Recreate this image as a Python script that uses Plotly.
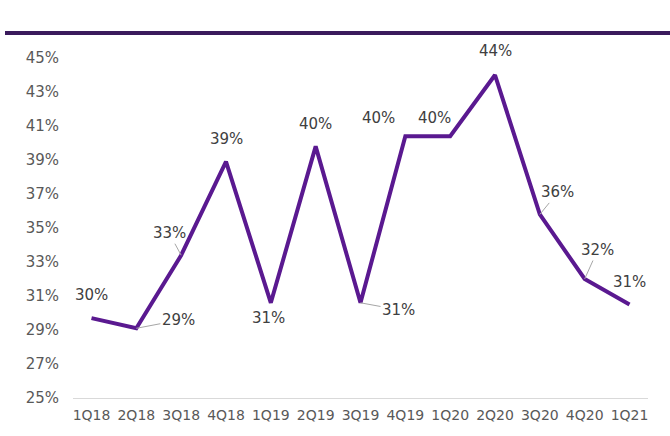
import plotly.graph_objects as go

quarters = ["1Q18", "2Q18", "3Q18", "4Q18", "1Q19", "2Q19", "3Q19", "4Q19",
            "1Q20", "2Q20", "3Q20", "4Q20", "1Q21"]
values = [29.7, 29.1, 33.4, 38.9, 30.6, 39.8, 30.6, 40.4, 40.4, 44.0, 35.8, 32.0, 30.5]
labels = ["30%", "29%", "33%", "39%", "31%", "40%", "31%", "40%", "40%", "44%", "36%", "32%", "31%"]
y_ticks = [25, 27, 29, 31, 33, 35, 37, 39, 41, 43, 45]

# label offsets in pixels (dx, dy) and whether a leader line is drawn
label_offsets = [(0, -23, False), (42, -8, True), (-12, -22, True), (0, -23, False),
                 (-2, 15, False), (0, -22, False), (38, 7, True), (-27, -18, False),
                 (-16, -18, False), (0, -24, False), (18, -22, True), (13, -29, True),
                 (0, -23, False)]

FONT = "DejaVu Sans"

fig = go.Figure()
fig.add_trace(go.Scatter(
    x=quarters, y=values, mode="lines",
    line=dict(color="#5a1990", width=4),
    hoverinfo="skip", showlegend=False,
))

annotations = []
for q, v, lab, (dx, dy, leader) in zip(quarters, values, labels, label_offsets):
    if leader:
        annotations.append(dict(
            x=q, y=v, xref="x", yref="y", text=lab, showarrow=True,
            ax=dx, ay=dy, axref="pixel", ayref="pixel",
            arrowhead=0, arrowwidth=1, arrowcolor="#a6a6a6", standoff=0,
            font=dict(family=FONT, size=15, color="#404040"),
        ))
    else:
        annotations.append(dict(
            x=q, y=v, xref="x", yref="y", text=lab, showarrow=False,
            xshift=dx, yshift=-dy,
            font=dict(family=FONT, size=15, color="#404040"),
        ))

fig.update_layout(
    width=670, height=436,
    margin=dict(l=73, r=22, t=58, b=38),
    paper_bgcolor="white", plot_bgcolor="white",
    font=dict(family=FONT, size=14, color="#595959"),
    annotations=annotations,
    shapes=[dict(type="line", xref="paper", yref="paper",
                 x0=(5 - 73) / 575, x1=(672 - 73) / 575,
                 y0=(398 - 33) / 340, y1=(398 - 33) / 340,
                 line=dict(color="#3a1a5c", width=4))],
)
fig.update_xaxes(
    type="category", showgrid=False, showline=True, linecolor="#d9d9d9", linewidth=1,
    ticks="", tickfont=dict(family=FONT, size=14, color="#595959"), fixedrange=True,
    ticklabelstandoff=4,
)
fig.update_yaxes(
    range=[25, 45], tickvals=y_ticks, ticktext=[f"{t}%" for t in y_ticks],
    showgrid=False, zeroline=False, showline=False, ticks="",
    tickfont=dict(family=FONT, size=15, color="#595959"), fixedrange=True,
    ticklabelstandoff=13,
)

fig.write_html("out.html")
